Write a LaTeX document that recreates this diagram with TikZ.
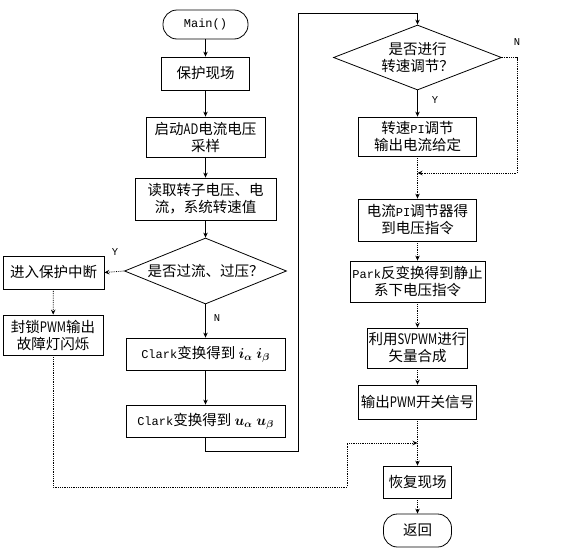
\documentclass[tikz,border=0pt]{standalone}
\usepackage[no-math]{fontspec}
\usepackage{bm}
\setmainfont{Noto Sans CJK SC}
\newfontfamily\monofont{Liberation Mono}
\usetikzlibrary{shapes.geometric,arrows.meta}
\newcommand\nar[1]{\scalebox{0.78}[1]{#1}}
\newcommand\mf[1]{{\monofont\fontsize{12}{14}\selectfont #1}}
\tikzset{
  box/.style={draw, line width=0.8pt, inner sep=0pt, align=center,
    font=\fontsize{14.5}{17}\selectfont},
  term/.style={box, rounded corners=14pt},
  dec/.style={draw, diamond, line width=0.8pt, inner sep=0pt, align=center,
    font=\fontsize{14.5}{17}\selectfont},
  arr/.style={line width=0.8pt, -{Stealth[length=5pt,width=4.5pt]}},
  dotarr/.style={arr, densely dotted},
  lbl/.style={font=\monofont\fontsize{10.5}{10.5}\selectfont, inner sep=0pt}
}
\begin{document}
\begin{tikzpicture}[x=1pt,y=-1pt]
\useasboundingbox (0,0) rectangle (581,549);
% left column
\node[term, minimum width=85, minimum height=29] (main) at (205.5,24.5) {\mf{Main()}};
\node[box, minimum width=88, minimum height=33] (bh) at (205.5,73.5) {保护现场};
\node[box, minimum width=119, minimum height=40] (qd) at (205.5,137) {启动\nar{AD}电流电压\\采样};
\node[box, minimum width=141, minimum height=42] (dq) at (205.5,199) {读取转子电压、电\\流，系统转速值};
\node[dec, aspect=2.45, minimum width=162, minimum height=66] (d1) at (205.5,271) {是否过流、过压？};
\node[box, minimum width=101, minimum height=33] (jr) at (53.5,272.5) {进入保护中断};
\node[box, minimum width=100, minimum height=40] (fs) at (53,335) {封锁\nar{PWM}输出\\故障灯闪烁};
\node[box, minimum width=159, minimum height=32] (c1) at (205.5,354) {\mf{Clark}变换得到\ $\bm{i}_{\bm{\alpha}}\;\bm{i}_{\bm{\beta}}$};
\node[box, minimum width=159, minimum height=32] (c2) at (205.5,421) {\mf{Clark}变换得到\ $\bm{u}_{\bm{\alpha}}\;\bm{u}_{\bm{\beta}}$};
% right column
\node[dec, aspect=2.58, minimum width=168, minimum height=65] (d2) at (417.5,57.5) {是否进行\\转速调节？};
\node[box, minimum width=118, minimum height=39] (zs) at (417.5,136.5) {转速\mf{PI}调节\\输出电流给定};
\node[box, minimum width=118, minimum height=42] (dl) at (417.5,220) {电流\mf{PI}调节器得\\到电压指令};
\node[box, minimum width=135, minimum height=41] (pk) at (417.5,281.5) {\mf{Park}反变换得到静止\\系下电压指令};
\node[box, minimum width=100, minimum height=40] (sv) at (417.5,348) {利用\nar{SVPWM}进行\\矢量合成};
\node[box, minimum width=118, minimum height=34] (sc) at (417.5,402) {输出\nar{PWM}开关信号};
\node[box, minimum width=68, minimum height=32] (hf) at (417.5,482) {恢复现场};
\node[term, minimum width=68, minimum height=33] (fh) at (417.5,530.5) {返回};
% junction coordinates
\coordinate (j1) at (417.5,173);
\coordinate (j2) at (417.5,443);
\coordinate (c2b) at (205.5,451);
\coordinate (lp) at (298,13);
\coordinate (nr) at (517,173);
\coordinate (fb) at (347,487);
% labels
\node[lbl] (ly1) at (115,252) {Y};
\node[lbl] (ln1) at (217,318) {N};
\node[lbl] (ly2) at (435,100) {Y};
\node[lbl] (ln2) at (517,42) {N};
% connectors
\draw[arr] (main) -- (bh);
\draw[arr] (bh) -- (qd);
\draw[arr] (qd) -- (dq);
\draw[arr] (dq) -- (d1);
\draw[dotarr] (d1.west) -- (jr.east);
\draw[dotarr] (jr) -- (fs);
\draw[arr] (d1.south) -- (c1);
\draw[arr] (c1) -- (c2);
\draw[arr] (c2.south) -- (c2b) -| (lp) -| (d2.north);
\draw[arr] (d2.south) -- (zs);
\draw[dotarr] (d2.east) -| (nr) -- (j1);
\draw[dotarr] (zs) -- (dl);
\draw[dotarr] (dl) -- (pk);
\draw[dotarr] (pk) -- (sv);
\draw[dotarr] (sv) -- (sc);
\draw[dotarr] (sc) -- (hf);
\draw[dotarr] (hf) -- (fh);
\draw[dotarr] (fs.south) |- (fb) |- (j2);
\end{tikzpicture}
\end{document}
